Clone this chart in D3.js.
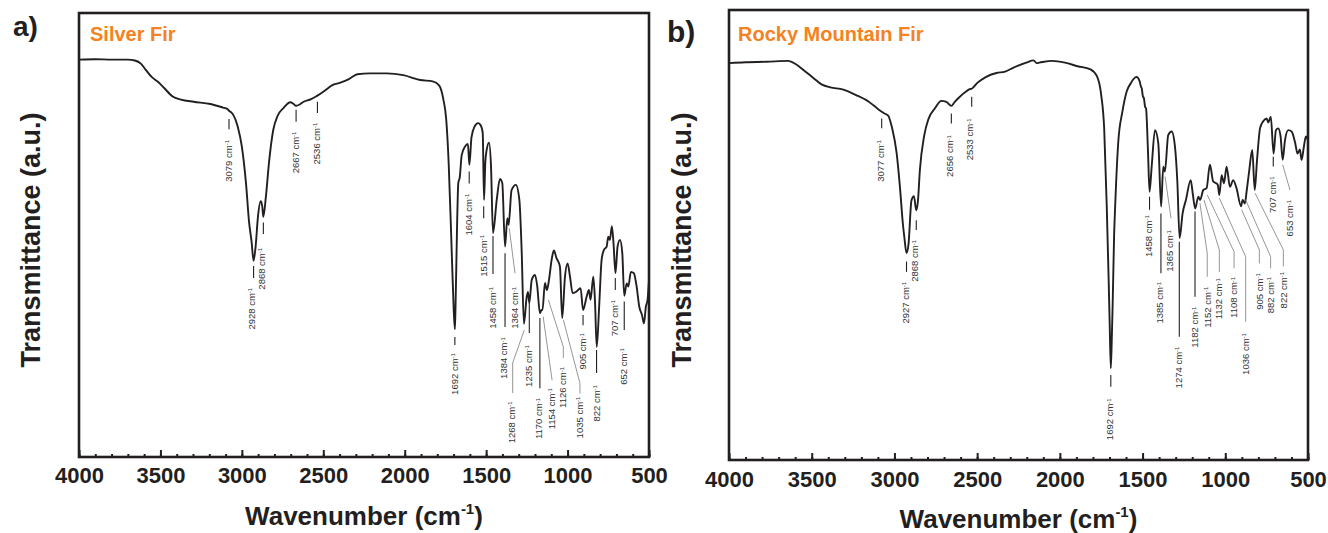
<!DOCTYPE html>
<html><head><meta charset="utf-8">
<script src="https://cdn.jsdelivr.net/npm/d3@7"></script>
<style>
body{margin:0;background:#fff;}
svg{display:block;font-family:"Liberation Sans",Arial,sans-serif;}
</style></head>
<body><svg id="c" width="1328" height="533"></svg>
<script>
// ---------------- DATA ----------------
const majorTicks = [4000,3500,3000,2500,2000,1500,1000,500];
const minorTicks = d3.range(4000, 499, -100);
const panelLetters = ["a)", "b)"];
const sampleNames = ["Silver Fir", "Rocky Mountain Fir"];
const xTitle = "Wavenumber (cm";
const yTitle = "Transmittance (a.u.)";

// [wavenumber cm-1, transmittance a.u.]
const silverFir = [[4000,89.5],[3900,89.6],[3800,89.5],[3700,89.5],[3657,89.3],[3620,88.6],[3590,87.2],[3554,85.6],[3515,84.5],[3477,83.1],[3425,81.2],[3374,80.5],[3296,80.0],[3193,79.5],[3116,78.7],[3090,78.4],[3079,78.0],[3065,77.6],[3052,77.0],[3026,74.5],[3000,69.9],[2974,61.4],[2956,53.0],[2940,48.4],[2928,44.2],[2915,47.6],[2902,53.8],[2884,57.6],[2875,56.5],[2868,54.1],[2853,58.4],[2832,66.8],[2807,73.7],[2781,76.8],[2742,78.7],[2703,79.9],[2685,79.6],[2667,79.1],[2645,79.4],[2626,79.9],[2575,80.6],[2545,81.2],[2536,81.4],[2498,82.3],[2447,83.7],[2395,84.3],[2343,85.1],[2291,86.2],[2214,86.4],[2111,86.4],[2008,86.0],[1905,84.9],[1828,84.6],[1789,83.7],[1763,80.6],[1745,76.0],[1730,66.1],[1714,49.2],[1700,34.0],[1692,28.8],[1688,33.8],[1678,53.0],[1671,61.7],[1662,63.0],[1650,68.0],[1630,69.9],[1612,70.5],[1603,65.8],[1590,72.0],[1570,74.5],[1550,75.2],[1535,74.8],[1521,73.0],[1513,57.9],[1505,66.5],[1497,69.1],[1482,70.8],[1470,65.4],[1458,50.4],[1435,57.9],[1415,62.6],[1401,61.7],[1384,47.4],[1370,53.8],[1362,52.3],[1344,60.1],[1317,61.3],[1296,57.9],[1282,46.6],[1268,30.0],[1251,36.1],[1243,37.2],[1235,34.7],[1220,39.9],[1200,41.0],[1186,38.4],[1170,32.4],[1160,33.1],[1154,33.1],[1139,39.2],[1127,37.6],[1114,39.9],[1098,44.4],[1084,46.5],[1068,44.8],[1047,42.9],[1033,31.3],[1016,40.6],[1000,43.6],[985,40.6],[969,36.9],[948,37.2],[920,38.0],[905,33.1],[883,36.1],[869,37.6],[859,35.4],[842,40.6],[832,35.4],[821,24.8],[806,33.9],[791,44.4],[777,46.6],[760,47.4],[750,49.6],[740,48.9],[728,52.0],[718,48.2],[706,41.4],[693,47.4],[678,48.9],[664,45.9],[652,36.3],[637,39.1],[627,38.4],[611,41.7],[593,41.4],[576,38.4],[560,33.9],[543,32.0],[531,30.1],[519,33.9],[509,35.4],[500,39.9]];

const rockyMountainFir = [[4000,88.2],[3900,88.4],[3773,88.5],[3644,88.7],[3593,87.9],[3541,86.4],[3490,84.9],[3438,83.4],[3387,82.8],[3309,82.3],[3232,81.1],[3155,79.6],[3103,78.1],[3085,77.6],[3077,77.4],[3060,77.0],[3039,76.6],[3013,73.6],[2987,68.3],[2967,60.8],[2949,52.5],[2940,49.5],[2927,46.0],[2915,47.9],[2897,57.7],[2882,58.6],[2868,55.5],[2858,57.5],[2846,64.5],[2820,72.1],[2794,75.8],[2756,78.1],[2717,79.8],[2686,79.6],[2656,78.7],[2635,79.6],[2614,80.4],[2563,82.0],[2545,82.4],[2533,82.5],[2499,83.8],[2448,85.1],[2383,86.0],[2331,86.3],[2280,87.2],[2203,88.3],[2159,88.8],[2140,88.2],[2124,88.3],[2047,88.7],[1969,88.3],[1892,87.5],[1815,86.8],[1776,85.3],[1750,81.1],[1732,73.6],[1717,57.0],[1705,40.0],[1699,30.6],[1692,20.4],[1686,27.0],[1681,34.3],[1672,50.0],[1665,57.0],[1647,70.6],[1622,77.4],[1596,81.9],[1570,83.8],[1545,85.0],[1536,85.1],[1518,84.2],[1510,83.0],[1505,82.6],[1498,80.8],[1492,80.4],[1485,78.5],[1479,78.1],[1467,68.3],[1458,59.6],[1445,65.2],[1425,73.3],[1405,70.4],[1388,56.3],[1375,65.2],[1365,64.1],[1345,72.2],[1324,73.0],[1304,69.6],[1290,62.0],[1276,49.3],[1258,54.8],[1238,57.8],[1209,62.2],[1196,59.0],[1182,55.9],[1163,58.5],[1152,57.8],[1133,60.0],[1113,60.4],[1093,65.6],[1073,61.9],[1055,61.5],[1045,61.1],[1036,58.9],[1022,63.3],[1008,61.5],[992,65.2],[972,60.7],[952,62.2],[932,60.4],[905,56.4],[895,57.8],[882,57.0],[870,60.0],[856,64.1],[837,68.9],[822,60.0],[808,66.7],[790,73.7],[772,75.2],[750,75.9],[740,75.0],[725,76.3],[708,68.1],[694,73.3],[680,73.7],[666,72.0],[653,66.7],[639,71.1],[619,73.3],[599,73.0],[579,70.7],[563,68.1],[549,69.0],[539,66.7],[525,69.6],[513,71.9],[500,71.0]];

// peak assignments: leader path [[wavenumber, T], ...] and label anchor (top end of label)
const silverFirPeaks = [
  {label:"3079", path:[[3079,76.1],[3079,73.8]], at:[3082,71.4]},
  {label:"2928", path:[[2928,43.0],[2928,40.3]], at:[2940,38.1]},
  {label:"2868", path:[[2868,52.8],[2868,50.2]], at:[2880,47.1]},
  {label:"2667", path:[[2667,78.2],[2667,75.5]], at:[2672,73.3]},
  {label:"2536", path:[[2536,80.0],[2536,77.5]], at:[2540,75.3]},
  {label:"1692", path:[[1692,27.0],[1692,25.2]], at:[1692,23.4]},
  {label:"1604", path:[[1604,64.3],[1604,61.6]], at:[1610,59.3]},
  {label:"1515", path:[[1515,56.5],[1515,53.8]], at:[1515,50.0]},
  {label:"1458", path:[[1458,49.8],[1458,41.2]], at:[1462,38.3]},
  {label:"1384", path:[[1384,45.9],[1384,29.3]], at:[1390,27.0]},
  {label:"1364", path:[[1358,51.5],[1323,41.4]], at:[1323,38.3]},
  {label:"1268", path:[[1266,28.6],[1337,21.2],[1337,14.4]], at:[1345,12.5]},
  {label:"1235", path:[[1235,34.7],[1235,27.9]], at:[1238,25.2]},
  {label:"1170", path:[[1170,31.3],[1170,15.5]], at:[1175,13.3]},
  {label:"1154", path:[[1150,31.6],[1095,17.3]], at:[1098,15.5]},
  {label:"1126", path:[[1118,35.4],[1026,24.8],[1026,22.3]], at:[1028,20.3]},
  {label:"1035", path:[[1026,30.9],[924,16.6],[924,14.3]], at:[928,13.6]},
  {label:"905", path:[[905,32.0],[905,29.7]], at:[905,27.9]},
  {label:"822", path:[[822,24.1],[822,18.9]], at:[822,16.2]},
  {label:"707", path:[[707,40.3],[707,37.6]], at:[710,35.4]},
  {label:"652", path:[[652,35.0],[652,28.6]], at:[655,24.5]}
];
const rockyMountainFirPeaks = [
  {label:"3077", path:[[3077,75.9],[3077,73.7]], at:[3082,71.1]},
  {label:"2927", path:[[2927,44.1],[2927,41.8]], at:[2935,39.6]},
  {label:"2868", path:[[2868,53.3],[2868,51.1]], at:[2876,48.9]},
  {label:"2656", path:[[2656,77.0],[2656,74.8]], at:[2664,72.2]},
  {label:"2533", path:[[2533,80.7],[2533,78.5]], at:[2543,75.9]},
  {label:"1692", path:[[1692,18.9],[1692,16.3]], at:[1697,13.7]},
  {label:"1458", path:[[1458,58.5],[1458,55.6]], at:[1463,54.4]},
  {label:"1385", path:[[1389,54.8],[1389,41.5]], at:[1395,39.6]},
  {label:"1365", path:[[1364,63.0],[1328,53.7]], at:[1334,51.1]},
  {label:"1274", path:[[1278,48.5],[1278,27.4]], at:[1284,25.2]},
  {label:"1182", path:[[1183,55.2],[1183,36.3]], at:[1183,34.1]},
  {label:"1152", path:[[1153,57.0],[1109,45.9],[1109,40.7]], at:[1109,38.5]},
  {label:"1132", path:[[1129,57.8],[1036,46.7],[1036,41.8]], at:[1038,40.4]},
  {label:"1108", path:[[1109,58.9],[947,46.3],[947,42.6]], at:[947,40.7]},
  {label:"1036", path:[[1036,58.2],[877,45.2],[877,30.7]], at:[877,28.2]},
  {label:"905", path:[[901,55.6],[794,46.7],[794,43.7]], at:[794,41.5]},
  {label:"882", path:[[877,57.8],[726,45.2],[726,42.6]], at:[726,40.7]},
  {label:"822", path:[[820,59.3],[649,46.7],[649,43.0]], at:[649,41.8]},
  {label:"707", path:[[710,67.4],[710,65.2]], at:[712,63.0]},
  {label:"653", path:[[653,65.6],[609,60.0]], at:[609,57.8]}
];

// ---------------- LAYOUT ----------------
const panels = [
  {data:silverFir, peaks:silverFirPeaks, name:sampleNames[0], letter:panelLetters[0],
   left:79, right:649, top:13, bottom:457, tickPad:10,
   letterX:13, letterY:36, letterSize:28, nameX:90, nameY:41,
   yTitleX:40, xTitleY:525},
  {data:rockyMountainFir, peaks:rockyMountainFirPeaks, name:sampleNames[1], letter:panelLetters[1],
   left:729, right:1308, top:10, bottom:460, tickPad:11,
   letterX:667, letterY:42, letterSize:30, nameX:738, nameY:41,
   yTitleX:691, xTitleY:528}
];

const svg = d3.select("#c");
const ink = "#231f20";

panels.forEach(p => {
  const x = d3.scaleLinear().domain([4000, 500]).range([p.left, p.right]);
  const y = d3.scaleLinear().domain([0, 100]).range([p.bottom, p.top]);
  const g = svg.append("g");

  // minor ticks
  const minorAxis = d3.axisBottom(x).tickValues(minorTicks).tickSize(-3).tickFormat("");
  g.append("g").attr("transform", `translate(0,${p.bottom})`).call(minorAxis)
    .call(s => { s.select(".domain").remove(); s.selectAll("line").attr("stroke", ink).attr("stroke-width", 2); });
  // major ticks + labels
  const majorAxis = d3.axisBottom(x).tickValues(majorTicks).tickSize(-7).tickPadding(p.tickPad).tickFormat(d3.format("d"));
  g.append("g").attr("transform", `translate(0,${p.bottom})`).call(majorAxis)
    .call(s => {
      s.select(".domain").remove();
      s.selectAll("line").attr("stroke", ink).attr("stroke-width", 2);
      s.selectAll("text").attr("fill", ink).attr("font-size", 22).attr("font-weight", "bold")
        .attr("font-family", "'Liberation Sans', Arial, sans-serif");
    });

  // frame
  g.append("rect").attr("x", p.left).attr("y", p.top)
    .attr("width", p.right - p.left).attr("height", p.bottom - p.top)
    .attr("fill", "none").attr("stroke", ink).attr("stroke-width", 2.6);

  // spectrum
  const line = d3.line().x(d => x(d[0])).y(d => y(d[1])).curve(d3.curveMonotoneX);
  g.append("path").datum(p.data).attr("d", line)
    .attr("fill", "none").attr("stroke", ink).attr("stroke-width", 1.9).attr("stroke-linejoin", "round");

  // peak leaders
  const leader = d3.line().x(d => x(d[0])).y(d => y(d[1]));
  p.peaks.forEach(pk => {
    const slanted = pk.path.some((pt, i) => i > 0 && pt[0] !== pk.path[i-1][0]);
    g.append("path").attr("d", leader(pk.path)).attr("fill", "none")
      .attr("stroke", slanted ? "#8a8a8a" : ink).attr("stroke-width", slanted ? 0.9 : 1.1);
    const t = g.append("text")
      .attr("transform", `translate(${x(pk.at[0])},${y(pk.at[1])}) rotate(-90)`)
      .attr("text-anchor", "end").attr("dy", "0.35em")
      .attr("font-size", 9.5).attr("fill", "#333");
    t.append("tspan").text(pk.label + " cm");
    t.append("tspan").attr("font-size", 6).attr("dy", "-0.45em").text("-1");
  });

  // panel letter and name
  g.append("text").attr("x", p.letterX).attr("y", p.letterY).attr("font-size", p.letterSize)
    .attr("font-weight", "bold").attr("fill", ink).text(p.letter);
  g.append("text").attr("x", p.nameX).attr("y", p.nameY).attr("font-size", 20)
    .attr("font-weight", "bold").attr("fill", "#f58220").text(p.name);

  // axis titles
  const xt = g.append("text").attr("x", (p.left + p.right) / 2).attr("y", p.xTitleY)
    .attr("text-anchor", "middle").attr("font-size", 26).attr("font-weight", "bold").attr("fill", ink);
  xt.append("tspan").text(xTitle);
  xt.append("tspan").attr("font-size", 15).attr("dy", "-0.75em").text("-1");
  xt.append("tspan").attr("dy", "0.45em").text(")");

  g.append("text").attr("transform", `translate(${p.yTitleX},${(p.top + p.bottom) / 2 + 5}) rotate(-90)`)
    .attr("text-anchor", "middle").attr("font-size", 27).attr("font-weight", "bold").attr("fill", ink)
    .text(yTitle);
});
</script></body></html>
